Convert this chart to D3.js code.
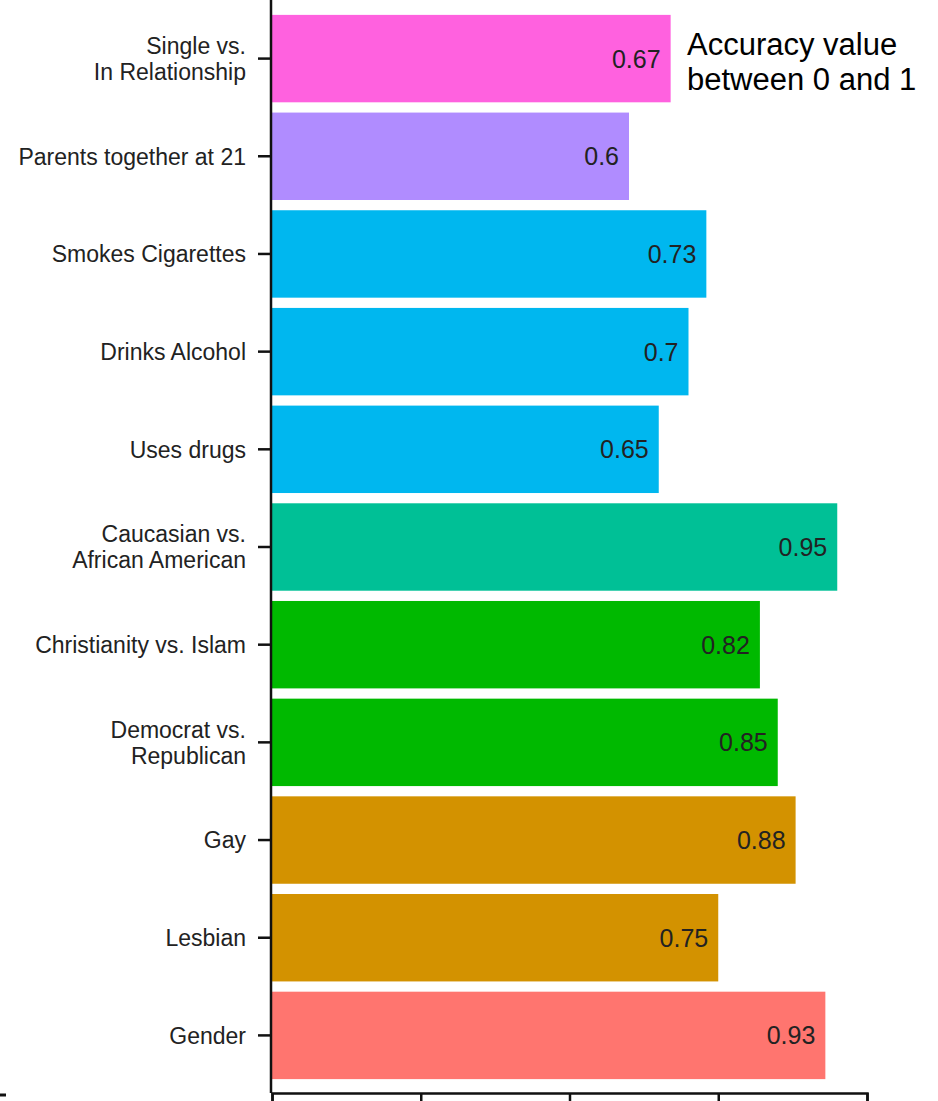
<!DOCTYPE html>
<html>
<head>
	<title>Accuracy by trait</title>
	<script src="https://d3js.org/d3.v7.min.js"></script>
	<style type="text/css">
body {
  margin: 0;
  background: #fff;
}
text {
  font-family: "Liberation Sans", Arial, sans-serif;
}
	</style>
</head>
<body>
	<svg id="chart" width="938" height="1101"></svg>
	<script type="text/javascript">
		// categories top to bottom, each label split on lines
		var labels = [
			["Single vs.", "In Relationship"],
			["Parents together at 21"],
			["Smokes Cigarettes"],
			["Drinks Alcohol"],
			["Uses drugs"],
			["Caucasian vs.", "African American"],
			["Christianity vs. Islam"],
			["Democrat vs.", "Republican"],
			["Gay"],
			["Lesbian"],
			["Gender"]
		]
		var values = [0.67, 0.6, 0.73, 0.7, 0.65, 0.95, 0.82, 0.85, 0.88, 0.75, 0.93]
		var colors = ["#FF61DF", "#B08CFF", "#00B7EF", "#00B7EF", "#00B7EF", "#00C096",
			"#00B900", "#00B900", "#D39200", "#D39200", "#FF756F"]
		var xTicks = [0, 0.25, 0.5, 0.75, 1]

		var svg = d3.select("#chart")
		var x0 = 272, axisY = 1093

		var x = d3.scaleLinear().domain([0, 1]).range([x0, x0 + 595])
		var y = d3.scaleBand()
			.domain(d3.range(values.length))
			.range([10, 1084])
			.paddingInner(0.105)
			.paddingOuter(0.05)

		// bars
		svg.append("g").selectAll("rect")
			.data(values)
			.enter().append("rect")
				.attr("x", x(0))
				.attr("y", function (d, i) { return y(i); })
				.attr("width", function (d) { return x(d) - x(0); })
				.attr("height", y.bandwidth())
				.attr("fill", function (d, i) { return colors[i]; });

		// value labels inside the bar end
		svg.append("g").selectAll("text")
			.data(values)
			.enter().append("text")
				.attr("x", function (d) { return x(d) - 10; })
				.attr("y", function (d, i) { return y(i) + y.bandwidth() / 2; })
				.attr("dy", "0.36em")
				.attr("text-anchor", "end")
				.attr("font-size", 25)
				.attr("fill", "#222")
				.text(function (d) { return d; });

		// left axis
		var yAxis = svg.append("g")
		yAxis.append("line")
			.attr("x1", x0 - 1).attr("x2", x0 - 1)
			.attr("y1", 0).attr("y2", axisY)
			.attr("stroke", "#111").attr("stroke-width", 2.5)

		var cat = yAxis.selectAll("g.cat")
			.data(labels)
			.enter().append("g")
				.attr("class", "cat")
				.attr("transform", function (d, i) {
					return "translate(0," + (y(i) + y.bandwidth() / 2) + ")";
				})
		cat.append("line")
			.attr("x1", x0 - 14).attr("x2", x0 - 1)
			.attr("stroke", "#111").attr("stroke-width", 2.5)
		cat.each(function (lines) {
			var t = d3.select(this).append("text")
				.attr("text-anchor", "end")
				.attr("font-size", 23)
				.attr("fill", "#222")
			lines.forEach(function (s, k) {
				t.append("tspan")
					.attr("x", x0 - 26)
					.attr("y", (k - (lines.length - 1) / 2) * 26)
					.attr("dy", "0.36em")
					.text(s)
			})
		})

		// bottom axis (labels fall outside the picture)
		var xAxis = d3.axisBottom(x).tickValues(xTicks).tickSize(10).tickFormat("")
		svg.append("g")
			.attr("transform", "translate(0," + axisY + ")")
			.call(xAxis)
			.call(function (g) {
				g.select(".domain").attr("stroke", "#111").attr("stroke-width", 2.5)
				g.selectAll(".tick line").attr("stroke", "#111").attr("stroke-width", 2.5)
			})

		// stray tick at lower left
		svg.append("line")
			.attr("x1", 0).attr("x2", 6)
			.attr("y1", axisY + 2).attr("y2", axisY + 2)
			.attr("stroke", "#111").attr("stroke-width", 3)

		// annotation
		var note = svg.append("text")
			.attr("font-size", 31)
			.attr("fill", "#000")
		note.append("tspan").attr("x", 687).attr("y", 55).text("Accuracy value")
		note.append("tspan").attr("x", 687).attr("y", 90).text("between 0 and 1")
	</script>
</body>
</html>
